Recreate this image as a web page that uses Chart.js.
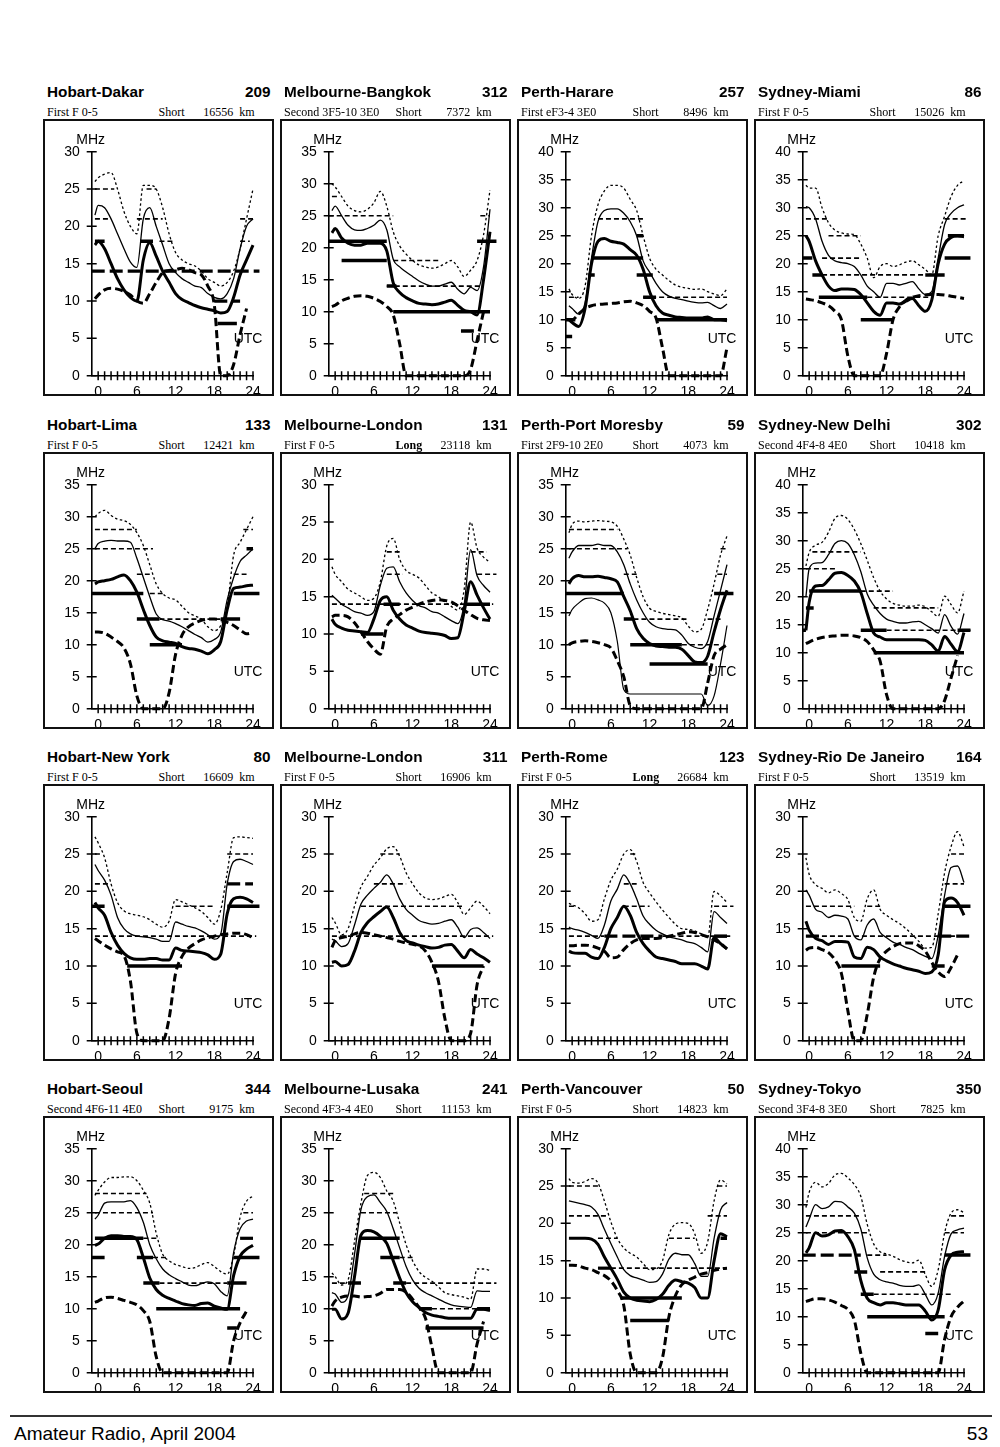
<!DOCTYPE html>
<html>
<head>
<meta charset="utf-8">
<script src="https://cdn.jsdelivr.net/npm/chart.js@4.4.0/dist/chart.umd.min.js"></script>
<style>
  body { margin: 0; background: #fff; }
  #page { position: relative; width: 1000px; height: 1447px; overflow: hidden; font-family: "Liberation Sans", Arial, sans-serif; color: #000; }
  .panel { position: absolute; width: 231px; height: 277px; }
  .panel canvas { position: absolute; left: 0; top: 0; }
  .frame { position: absolute; left: 0; top: 0; width: 231px; height: 277px; box-sizing: border-box; border: 2px solid #111; pointer-events: none; }
  .ttl { position: absolute; top: -35px; font-weight: bold; font-size: 15.3px; line-height: 15.3px; white-space: nowrap; }
  .sub { position: absolute; top: -13px; font-family: "Liberation Serif", "Times New Roman", serif; font-size: 12px; line-height: 12px; white-space: nowrap; }
  #rule { position: absolute; left: 10px; top: 1415px; width: 982px; height: 1.5px; background: #333; }
  .foot { position: absolute; top: 1424px; font-size: 19px; line-height: 19px; }
</style>
</head>
<body>
<div id="page">
  <div id="rule"></div>
  <div class="foot" style="left:14px">Amateur Radio, April 2004</div>
  <div class="foot" style="right:12px">53</div>
</div>
<script>
// hours sampled by every curve: -0.5 then 0..24 UTC
const hours = [-0.5, 0, 1, 2, 3, 4, 5, 6, 7, 8, 9, 10, 11, 12, 13, 14, 15, 16, 17, 18, 19, 20, 21, 22, 23, 24];
const hourTicks = [0, 1, 2, 3, 4, 5, 6, 7, 8, 9, 10, 11, 12, 13, 14, 15, 16, 17, 18, 19, 20, 21, 22, 23, 24];

const paths = ["Hobart-Dakar", "Melbourne-Bangkok", "Perth-Harare", "Sydney-Miami",
  "Hobart-Lima", "Melbourne-London", "Perth-Port Moresby", "Sydney-New Delhi",
  "Hobart-New York", "Melbourne-London", "Perth-Rome", "Sydney-Rio De Janeiro",
  "Hobart-Seoul", "Melbourne-Lusaka", "Perth-Vancouver", "Sydney-Tokyo"];
const bearings = [209, 312, 257, 86, 133, 131, 59, 302, 80, 311, 123, 164, 344, 241, 50, 350];
const modes = ["First F 0-5", "Second 3F5-10 3E0", "First eF3-4 3E0", "First F 0-5",
  "First F 0-5", "First F 0-5", "First 2F9-10 2E0", "Second 4F4-8 4E0",
  "First F 0-5", "First F 0-5", "First F 0-5", "First F 0-5",
  "Second 4F6-11 4E0", "Second 4F3-4 4E0", "First F 0-5", "Second 3F4-8 3E0"];
const routes = ["Short", "Short", "Short", "Short", "Short", "Long", "Short", "Short",
  "Short", "Short", "Long", "Short", "Short", "Short", "Short", "Short"];
const distances = [16556, 7372, 8496, 15026, 12421, 23118, 4073, 10418,
  16609, 16906, 26684, 13519, 9175, 11153, 14823, 7825];
const yMax = [30, 35, 40, 40, 35, 30, 35, 40, 30, 30, 30, 30, 35, 35, 30, 40];

// upper dotted curve (MHz)
const upper = [
  [26, 26.5, 27, 27.2, 25, 22, 20, 19, 25.5, 25.5, 25, 22.5, 19, 16.5, 15.5, 15, 14.7, 14, 13, 12.5, 12, 12.5, 14, 17, 21, 25],
  [30, 29.5, 28, 26.5, 25.8, 25.6, 26, 27, 28.8, 26.5, 22.5, 20.3, 19, 18, 17.3, 17, 16.8, 17, 17.5, 18, 17, 15.5, 16.5, 18, 22, 29],
  [15.5, 14.5, 13.8, 16, 25, 30.5, 33, 34, 34, 33.5, 31.5, 29.5, 25, 21, 19, 18, 17, 16.2, 15.8, 15.6, 15.4, 15.5, 15, 14.6, 14.3, 15.5],
  [34, 33.5, 33.5, 30, 27.3, 26, 25.5, 25.3, 25.2, 23.5, 21, 17.5, 19.5, 20, 19.5, 19.8, 20.3, 20.5, 19.8, 19, 18, 25, 28.5, 32, 34, 34.8],
  [30, 30.5, 31, 30.2, 29.6, 29.4, 28.8, 27.5, 25.5, 22.5, 19.5, 18, 17.3, 17, 16, 15, 14.5, 14, 12.8, 12.2, 13, 16, 24, 26, 28, 30],
  [19, 18, 17, 16, 15.5, 15, 14.5, 14.8, 17, 21.8, 22.8, 20, 18.5, 18, 17.5, 16.5, 15.5, 15, 14.3, 13.7, 13.2, 16, 25, 21.5, 20.3, 19.6],
  [27.5, 28.8, 29.3, 29.2, 29.3, 29.4, 29.3, 29.2, 28.5, 26.5, 24, 20.5, 17.5, 15.7, 15.2, 14.9, 14.7, 14.5, 14.2, 12.9, 12, 12.4, 15.5, 19.5, 24, 27],
  [25.5, 27.9, 29.2, 29.7, 31.5, 34, 34.5, 33.8, 32, 29.5, 26.5, 23.4, 21, 19.6, 18.8, 18.5, 18.3, 18.3, 18.5, 18.2, 17.3, 16.5, 20.1, 18.6, 17.1, 21],
  [27.3, 26.5, 24.5, 21, 18.5, 17.4, 17, 16.8, 16.6, 16.2, 15.6, 15.2, 16, 18.9, 18.6, 18.2, 17.8, 17.3, 16.5, 15.6, 17.5, 22.5, 27.2, 27.3, 27.2, 27.1],
  [16.5, 15.8, 14.2, 15, 18, 20.6, 22, 23.5, 24.5, 25.7, 26, 24.7, 22.5, 21, 19.8, 19.1, 18.9, 19, 19.3, 19.6, 18.5, 16.9, 17.8, 18.7, 18, 17],
  [18.4, 18.2, 17.8, 17, 16, 16.2, 19, 21.5, 23, 25, 25.6, 24, 21.2, 19.8, 18.6, 17.5, 16.5, 15.6, 15, 14.9, 14.7, 14.3, 13.8, 20, 19.4, 18.5],
  [24.5, 22.3, 20.9, 20.4, 19.8, 20.2, 19.7, 18.9, 16.5, 16, 19, 20.2, 17.6, 16.8, 16.2, 15.7, 15, 14.2, 13.3, 12.4, 12.5, 17, 22.5, 26, 28, 26],
  [27.7, 28.5, 29.8, 30.5, 30.5, 30.6, 30.6, 30, 28.5, 26.5, 21.8, 18.5, 17.5, 16.9, 16.6, 16.3, 16.4, 16.9, 17.2, 16.6, 15.8, 15.4, 18.3, 24.3, 26.8, 27.6],
  [15.6, 15, 13.7, 14.5, 20.5, 26.5, 30.8, 31.3, 30.5, 28.4, 26.8, 23.4, 20, 17.5, 15.8, 14.9, 14.3, 13.4, 12.5, 12.2, 12, 11.8, 11.5, 16.2, 16.2, 16],
  [26, 25.5, 25.4, 25.6, 26, 25.4, 23, 20.2, 18, 16.7, 16, 15.5, 14.6, 13.8, 13.9, 15, 18.5, 19.9, 20.1, 20, 18.6, 16, 17.5, 23, 25.8, 25.3],
  [29.5, 32.2, 34, 33.2, 33.8, 35.3, 35.6, 34.8, 33.6, 31.5, 26.5, 23, 21.6, 21.2, 20.8, 20.2, 19.8, 19.6, 20.1, 17.5, 15.4, 18.4, 25, 28.5, 29.1, 28.6]
];

// thin solid curve
const median = [
  [21.5, 22.8, 22.5, 21, 19, 17, 15.2, 14.5, 21, 22.5, 20, 17.5, 15, 13.8, 13, 12.5, 12, 11.8, 11, 10.5, 10.3, 11, 13, 17, 20, 21],
  [25.8, 26.5, 25, 23.5, 22.8, 22.7, 23, 23.5, 24.3, 22.8, 18.2, 17, 16.2, 15.5, 14.8, 14.3, 14, 14, 14.3, 14.6, 13.5, 12.8, 13.8, 13.3, 17, 26],
  [12.5, 12, 11, 13, 21, 27.5, 29.5, 29.8, 29.8, 29, 27.5, 25, 20.5, 18.5, 16.5, 15, 14.2, 13.8, 13.6, 13.3, 13.1, 13, 13.1, 12.5, 12, 12.8],
  [30.2, 30, 28, 24, 21.5, 20.5, 20.2, 20, 19.5, 18, 16, 15, 14, 16.5, 16.5, 16.2, 16.5, 16.8, 15.5, 14.5, 15, 21, 27, 29, 30, 30.5],
  [25, 25.8, 26.2, 26.3, 26.2, 26.2, 26, 23.5, 20.5, 17.5, 14.8, 13.9, 13.7, 13.3, 12.8, 12.2, 11.6, 11.1, 10.4, 10.8, 12, 17, 20.5, 23, 24, 25],
  [15.2, 14.8, 14, 13.5, 13, 12.8, 12.5, 13, 16.5, 18.8, 19, 17, 15.5, 14.5, 13.8, 13.5, 13, 12.8, 12.3, 11.8, 11.4, 14, 21.3, 17.8, 16.5, 15.6],
  [23.5, 24.5, 25.5, 25.5, 25.5, 25.7, 25.5, 25.5, 24.5, 22.5, 19.5, 17, 15, 13.5, 12.8, 12.5, 12.4, 12.3, 11.5, 10.2, 9.6, 9.4, 10.5, 14.5, 18.5, 22.5],
  [20, 25, 26, 26.1, 27.5, 29.5, 30, 29.5, 27.5, 24.5, 20.5, 18.5, 17, 16, 15.6, 15.3, 15.3, 15.5, 15.6, 15, 14.3, 13.5, 16.8, 14.7, 13.3, 17],
  [23.6, 22.8, 21.5, 19.5, 16.5, 15, 14.3, 14, 13.9, 13.8, 13.6, 13.3, 13.3, 15.9, 15.6, 15.3, 15.1, 14.7, 14.2, 13.6, 14.3, 21, 24, 24.3, 24, 23.6],
  [13.6, 13.4, 12.6, 13, 15.5, 18.3, 19.5, 20.4, 21.2, 22.2, 21, 19, 17.6, 16.8, 16.1, 15.8, 15.6, 15.7, 16, 16.2, 15.2, 13.8, 14.9, 15.1, 14.5, 13.7],
  [15.2, 15, 14.8, 14.5, 14.1, 13.7, 15.5, 18.7, 20.3, 22.2, 21, 19, 16.7, 15.6, 14.8, 14.3, 13.9, 13.7, 13.5, 13.2, 13, 12.5, 11.9, 17.3, 16.5, 15.7],
  [20.2, 19.5, 17.6, 17.2, 16.5, 16.8, 16.7, 16.3, 14, 13.5, 15.5, 16.3, 14.5, 13.8, 13.2, 12.9, 12.5, 12.2, 11.7, 11.3, 11, 14.1, 19.5, 23.2, 23.4, 21.2],
  [24, 24.6, 26.5, 26.7, 26.7, 26.7, 26.9, 25.8, 23.5, 20, 17.8, 16.2, 15.3, 14.7, 14.2, 13.7, 13.6, 13.9, 14.2, 13.9, 12.7, 12, 18.8, 22.5, 23.7, 24],
  [12.5, 12.3, 11, 12, 18.5, 25.5, 27.5, 27.8, 26.6, 25.2, 22.5, 19.5, 16.6, 14.5, 13.2, 12.5, 12, 11.5, 11, 10.6, 10.4, 10.3, 10.2, 12.8, 12.7, 12.7],
  [23, 22.9, 22.7, 22.5, 22.2, 21.2, 19.2, 17.3, 15.5, 13.8, 13, 12.7, 12.4, 12.1, 12.2, 13.2, 15.2, 16, 15.8, 15.8, 14.6, 12.9, 12.9, 18, 21.8, 22.8],
  [26, 27.4, 30, 29.3, 29.6, 30.6, 30.5, 29.6, 28.5, 25.7, 20.5, 17.6, 16.6, 16.2, 16, 15.6, 15.4, 15.4, 15.7, 14, 12.1, 14.2, 20.8, 24.8, 25.5, 25.8]
];

// thick solid curve
const optimum = [
  [17.5, 18, 17, 15, 13, 11.5, 10.5, 10, 15.5, 17.8, 16, 14, 12.5, 11, 10.2, 9.8, 9.4, 9.1, 8.9, 8.7, 8.4, 8.6, 10.5, 13.5, 15.5, 17.5],
  [22.3, 23, 21.5, 20.7, 20.4, 20.4, 20.7, 20.7, 20.7, 19.5, 14.5, 13, 12.2, 11.7, 11.3, 11.2, 11.1, 11.2, 11.5, 11.8, 11, 10.2, 10, 9.5, 15, 22.5],
  [10, 9.5, 8.8, 12, 20, 24, 24.5, 24, 23.8, 23.5, 22.5, 21.5, 19, 15, 12.5, 11.2, 10.8, 10.5, 10.4, 10.3, 10.3, 10.3, 10.5, 10, 10, 9.8],
  [25, 24, 20.5, 18, 16, 15.2, 15.5, 15.5, 15.4, 14.5, 13, 11.5, 10.8, 13, 13, 12.8, 13.3, 13.8, 12.5, 11.5, 13.5, 20, 23.5, 24.7, 25, 24.8],
  [19.5, 19.8, 20, 20.2, 20.6, 20.9, 20, 18.2, 15.5, 13, 11.2, 10.6, 10.4, 10.2, 9.7, 9.4, 9.3, 9, 8.6, 9.2, 10.5, 15.5, 18.8, 19, 19.2, 19.3],
  [12, 11.3, 10.8, 10.5, 10.4, 10.3, 10.2, 12, 14.5, 15, 13.2, 12, 11.2, 10.8, 10.4, 10.2, 10.1, 10, 9.8, 9.4, 9.5, 13, 17, 15.2, 13.5, 12],
  [19.5, 20.3, 20.8, 20.6, 20.6, 20.7, 20.5, 20.3, 19.8, 17.5, 15.3, 12.5, 11, 10.2, 9.8, 9.7, 9.6, 9.6, 9.3, 8.3, 7.3, 7.2, 8.2, 12, 15.5, 18.5],
  [14, 19, 21.9, 22, 23, 24.2, 24.3, 23.8, 22.8, 20.8, 17, 13.5, 12.8, 12.3, 12.3, 12.3, 12.3, 12.3, 12.3, 12.2, 11.4, 10.3, 12.9, 11.5, 10.2, 13.6],
  [18.5, 17.8, 16.8, 14.5, 12.8, 11.7, 11.1, 10.9, 10.9, 11, 11, 10.8, 10.8, 12.4, 12.1, 12, 11.9, 11.8, 11.5, 10.9, 11.6, 17, 19, 19.2, 19, 18.5],
  [10.5, 10.6, 10, 10.2, 12, 14.5, 15.8, 16.6, 17.3, 17.9, 16.5, 14.5, 13.4, 13.1, 12.8, 12.6, 12.4, 12.5, 12.8, 12.9, 12, 11.1, 12.2, 11.6, 11.1, 10.5],
  [12, 11.8, 11.7, 11.7, 11.2, 11, 12.5, 15, 16.5, 18, 16.8, 14.5, 13, 12, 11.2, 11, 10.8, 10.6, 10.3, 10.3, 10.3, 10, 9.6, 13.8, 13, 12.3],
  [16, 14.8, 13.7, 13.4, 12.9, 13.3, 13.3, 13.2, 11.2, 11, 12.5, 12.2, 11.2, 10.7, 10.3, 10, 9.7, 9.5, 9.3, 9, 9.2, 11.5, 18.6, 19.1, 18.5, 16.8],
  [19.9, 20.1, 21, 21.4, 21.4, 21.3, 21.3, 20.8, 18, 14.8, 13, 12.1, 11.6, 11.2, 10.8, 10.6, 10.5, 10.8, 10.9, 10.4, 10.1, 9.9, 15.2, 18.2, 19.3, 19.9],
  [9.9, 9.9, 8.4, 9.3, 15, 21.5, 22.2, 22, 21.3, 20.2, 17.5, 14.8, 12.5, 11.1, 10.2, 9.4, 9, 8.8, 8.6, 8.5, 8.5, 8.5, 8.5, 9.9, 9.9, 9.7],
  [18, 18, 18, 18, 17.9, 17.2, 15.5, 14, 12.5, 10.8, 10, 9.7, 9.6, 9.5, 9.8, 10.5, 11.7, 12.4, 12.2, 12, 11.4, 10, 10, 15, 18.6, 18.2],
  [21.4, 22.3, 25, 24.4, 24.6, 25.3, 25.4, 24.3, 22, 16.5, 13.3, 12.5, 12.1, 12.5, 12.5, 12.3, 12.1, 12.1, 12.1, 11, 9.4, 11.2, 18.4, 21, 21.5, 21.6]
];

// lower thick dashed curve
const lowest = [
  [10.3, 10.8, 11.5, 11.7, 11.6, 11.3, 10.8, 10, 9.7, 11, 12.5, 13.8, 14.1, 14.2, 14.4, 14.2, 13.8, 13.5, 12, 9.5, 0, 0, 1.5, 5.5, 9, null],
  [10.8, 11, 11.7, 12.1, 12.4, 12.5, 12.4, 12.1, 11.6, 10.8, 9.5, 5, 0, 0, 0, 0, 0, 0, 0, 0, 0, 0, 1, 5.5, 10, null],
  [10, 10, 11, 12, 12.5, 12.7, 12.8, 12.9, 13, 13.2, 13.3, 13, 12.5, 11.5, 10.3, 5, 0, 0, 0, 0, 0, 0, 0, 0, 0, 5],
  [13.7, 13.6, 13.4, 13, 12.5, 11.5, 10, 3.5, 0, 0, 0, 0, 0, 4, 10, 12.3, 13.5, 14, 14.3, 14.4, 14.5, 14.5, 14.4, 14.2, 14, 13.8],
  [12, 12, 11.8, 11.2, 10.5, 9.5, 7, 2, 0, 0, 0, 0, 2.5, 8.5, 11.5, 12.8, 13.4, 13.8, 14, 14, 13.9, 13.5, 13, 12.3, 11.7, 11.9],
  [12.3, 12.5, 12.5, 12.3, 11.5, 10.3, 9, 8, 7.3, 11, 12, 12.6, 13.2, 13.6, 14, 14.3, 14.5, 14.6, 14.5, 14.3, 13.8, 13.2, 12.6, 12.1, 11.9, 11.8],
  [10, 10.3, 10.5, 10.6, 10.5, 10.3, 10, 9.5, 7.5, 5, 0.5, 0, 0, 0, 0, 0, 0, 0, 0, 0, 0, 0, 4, 8.3, 9.3, 10],
  [11.6, 11.9, 12.4, 12.7, 12.9, 13, 13.1, 13.1, 13, 12.7, 12, 10.5, 8.5, 2.5, 0, 0, 0, 0, 0, 0, 0, 0, 1.5, 5.5, 9.5, null],
  [13.7, 13.4, 12.8, 12.3, 11.9, 11.4, 8, 1, 0, 0, 0, 0, 3, 9, 11.3, 12.4, 13, 13.5, 13.8, 14, 14.2, 14.3, 14.4, 14.4, 14.2, 13.8],
  [12.5, 13.4, 13.8, 14, 14.3, 14.5, 14.4, 14.2, 14, 13.8, 13.6, 13.3, 13.1, 12.9, 12.7, 12, 10.5, 8, 3, 0, 0, 0, 1, 7.5, 10, null],
  [12.7, 12.7, 12.8, 12.8, 12.7, 12.4, 12, 11.1, 11.2, 12.2, 13, 13.5, 13.7, 13.7, 13.7, 13.8, 14, 14.2, 14.4, 14.6, 14.5, 14.2, 13.9, 13.5, 13, 12.3],
  [12.1, 12.4, 12.5, 12.2, 11.8, 10.8, 9, 4, 0, 0, 3.5, 8.5, 11, 12, 12.6, 13, 13.1, 13.1, 12.7, 12, 10.5, 9.2, 8.6, 9.8, 11.5, null],
  [11, 11.2, 11.7, 11.8, 11.6, 11.3, 11, 10.6, 9.7, 8, 2.5, 0, 0, 0, 0, 0, 0, 0, 0, 0, 0, 0, 5, 7.8, 9.6, null],
  [10.4, 11.2, 11.8, 12, 12, 11.8, 11.9, 12, 12.4, 13, 13, 13, 12.6, 11.5, 10.2, 8.5, 4, 0, 0, 0, 0, 0, 0, 4.5, 8, null],
  [14.4, 14.4, 14.3, 14, 13.8, 13.4, 13, 12.3, 11, 9, 2.5, 0, 0, 0, 0, 2, 7.5, 10.3, 11.8, 12.4, 12.8, 13.2, 13.4, 13.7, 13.9, 14],
  [12.7, 12.9, 13.2, 13.2, 13, 12.6, 12, 11.3, 9.4, 3.5, 0, 0, 0, 0, 0, 0, 0, 0, 0, 0, 0, 0, 6, 10, 11.7, 12.8]
];

// extra thin lower curve, only drawn on Perth-Port Moresby (index 6)
const extraLow = {
  6: [14.5, 15.5, 16.5, 17.2, 17.3, 17, 16.5, 15, 10.5, 3, 2.3, 2.3, 2.3, 2.3, 2.3, 2.3, 2.3, 2.3, 2.3, 2.3, 2.3, 2.3, 0.5, 2, 7, 13]
};

// band steps as [from hour, to hour, MHz]
const thinBands = [
  [[-0.5, 2.5, 25], [-0.5, 2, 21], [6, 10, 21], [7.5, 9, 25], [9.5, 11.5, 18], [22, 24, 21], [22, 23.5, 18]],
  [[-0.5, 0.5, 28], [-1, 9, 25], [-0.5, 8, 21], [9, 16, 18], [8, 23, 14], [22.5, 24, 25]],
  [[-0.5, 1, 14], [4, 11, 28], [11, 24, 14]],
  [[-0.5, 3, 28], [3, 8, 25], [2, 8, 21], [2, 19, 18], [9, 19, 14], [21, 24.5, 28]],
  [[-0.5, 6, 28], [-0.5, 8.5, 25], [6, 8, 21], [8, 10, 18], [9.5, 19, 14], [22.5, 24, 28], [21, 23, 21]],
  [[-0.5, 24.5, 14], [8, 10, 21], [8, 10.5, 18], [21, 23.5, 21], [22, 25, 18]],
  [[-0.5, 7, 28], [-0.5, 8.5, 25], [8, 10, 21], [9.5, 18, 14], [17, 23, 10], [21, 23, 14], [22.5, 24, 21], [23, 24, 25]],
  [[0.5, 8, 28], [-0.5, 4, 25], [8, 13, 21], [10, 20, 18], [12, 25, 14]],
  [[-0.5, 0.5, 25], [-0.5, 2, 21], [-0.5, 24.5, 14], [12, 18, 18], [20, 24, 25]],
  [[-0.5, 24.5, 14], [4, 20, 18], [6, 11, 21], [7, 10, 25]],
  [[-0.5, 5, 14], [14, 24.5, 14], [8, 12, 18], [8, 10, 21], [9, 10, 25], [22, 25, 18], [-0.5, 0.5, 18]],
  [[-0.5, 24.5, 14], [-0.5, 7, 18], [9, 11, 18], [21, 24, 21], [22, 24, 25]],
  [[-0.5, 7.5, 28], [-0.5, 8.5, 25], [7, 9.5, 21], [8.5, 10.5, 18], [9.5, 20, 14], [22.5, 24, 25]],
  [[-0.5, 1.5, 14], [4.5, 9, 28], [4, 9.5, 25], [10, 12, 18], [11, 25, 14], [15, 24, 10]],
  [[-0.5, 4, 25], [-0.5, 5.5, 21], [4, 7, 18], [6, 24, 14], [15, 19, 18], [21, 24, 21], [22.5, 24, 25], [12, 14, 10]],
  [[-0.5, 8, 28], [-0.5, 9, 25], [9, 12, 21], [11, 18, 18], [10, 22, 14], [21, 24, 25], [22, 24, 28]]
];
const thickBands = [
  [[-0.5, 1, 18], [6.5, 8.5, 18], [18.5, 21.5, 7]],
  [[-1, 8, 21], [1, 8, 18], [8, 9.5, 14], [9, 24, 10], [19.5, 21.5, 7], [22, 25, 21]],
  [[-1, 0.5, 10], [-1, 0, 7], [2.5, 3.5, 18], [3, 11, 21], [10, 11, 25], [10, 12.5, 18], [11, 13, 14], [13, 24, 10]],
  [[-1, 0.5, 21], [0.5, 2, 18], [1.5, 9, 14], [8, 13, 10], [18, 21, 18], [21, 25, 21], [21.5, 24, 25]],
  [[-1, 7, 18], [6, 9.5, 14], [19, 22, 14], [8, 13, 10], [21, 25, 18], [23, 24, 25]],
  [[7.5, 10, 14], [20, 24, 14], [4, 7.5, 10]],
  [[-1, 8, 18], [8, 9.5, 14], [9, 17, 10], [12, 21, 7], [22, 25, 18]],
  [[0, 8, 21], [-0.5, 0.7, 18], [-1, -0.5, 14], [8, 12, 14], [10, 24, 10], [23, 25, 14]],
  [[-1, 1, 18], [4.5, 13, 10], [20, 25, 18]],
  [[15, 23, 10]],
  [[22, 24, 14]],
  [[5, 11, 10], [19, 21, 10], [21, 25, 18]],
  [[-0.5, 7, 21], [-1, 1, 18], [6, 8.5, 18], [7, 9.5, 14], [20, 23, 14], [9, 22, 10], [20, 21.5, 7], [21, 25, 18]],
  [[2, 4, 14], [4, 8, 21], [8, 10, 21], [7, 10, 18], [9, 11, 14], [13, 15, 10], [14, 23, 7], [22, 24, 10]],
  [[7.5, 17, 10], [9, 15, 7], [23, 24, 18]],
  [[7, 9, 18], [8, 10, 14], [9, 21, 10], [18, 20, 7], [21, 25, 21]]
];
const dashBands = [
  [[-1, 25, 14], [18, 22, 10]], [], [], [],
  [], [], [], [],
  [[20, 24, 21]], [], [[5, 14, 14]], [[-0.5, 2, 14], [20, 25, 14]],
  [[22, 24, 21]], [], [[4, 6, 14]], [[-1, 8, 21]]
];

const colLeft = [43, 280, 517, 754];
const rowTop = [119, 452, 784, 1116];

Chart.defaults.font.family = '"Liberation Sans", Arial, sans-serif';
Chart.defaults.color = '#000';

// tick marks crossing the axes, plus the MHz and UTC captions
const axisMarks = {
  id: 'axisMarks',
  afterDraw(chart) {
    const { ctx, chartArea: a, scales: { x, y } } = chart;
    ctx.save();
    ctx.strokeStyle = '#000';
    ctx.lineWidth = 1.5;
    ctx.beginPath();
    for (let v = 0; v <= y.max; v += 5) {
      const py = y.getPixelForValue(v);
      ctx.moveTo(a.left - 5, py);
      ctx.lineTo(a.left + 5, py);
    }
    hourTicks.forEach(h => {
      const px = x.getPixelForValue(h);
      ctx.moveTo(px, a.bottom - 4.5);
      ctx.lineTo(px, a.bottom + 4.5);
    });
    ctx.stroke();
    ctx.fillStyle = '#000';
    ctx.font = '14px "Liberation Sans", Arial, sans-serif';
    ctx.textAlign = 'center';
    ctx.fillText('MHz', a.left - 1, a.top - 7.5);
    ctx.textAlign = 'left';
    ctx.fillText('UTC', x.getPixelForValue(21), a.bottom - 32.5);
    ctx.restore();
  }
};

function curve(values) {
  return hours.map((h, i) => ({ x: h, y: values[i] }));
}

function steps(list) {
  const pts = [];
  list.forEach(([a, b, v]) => {
    pts.push({ x: a, y: v }, { x: b, y: v }, { x: b, y: null });
  });
  return pts;
}

const page = document.getElementById('page');

paths.forEach((name, i) => {
  const panel = document.createElement('div');
  panel.className = 'panel';
  panel.style.left = colLeft[i % 4] + 'px';
  panel.style.top = rowTop[Math.floor(i / 4)] + 'px';
  const route = routes[i] === 'Long' ? '<b>Long</b>' : routes[i];
  panel.innerHTML =
    '<div class="ttl" style="left:4px">' + name + '</div>' +
    '<div class="ttl" style="right:3.5px">' + bearings[i] + '</div>' +
    '<div class="sub" style="left:4px">' + modes[i] + '</div>' +
    '<div class="sub" style="left:115.5px">' + route + '</div>' +
    '<div class="sub" style="right:19.5px">' + distances[i] + '\u2002km</div>' +
    '<canvas width="231" height="277"></canvas><div class="frame"></div>';
  page.appendChild(panel);

  const datasets = [
    { data: curve(upper[i]), borderWidth: 1.3, borderDash: [2.5, 2.5] },
    { data: curve(median[i]), borderWidth: 1.3 },
    { data: curve(optimum[i]), borderWidth: 3 },
    { data: curve(lowest[i]), borderWidth: 3, borderDash: [8, 4] },
    { data: steps(thinBands[i]), borderWidth: 1.6, borderDash: [5, 3], tension: 0, cubicInterpolationMode: 'default' },
    { data: steps(thickBands[i]), borderWidth: 3.5, tension: 0, cubicInterpolationMode: 'default' },
    { data: steps(dashBands[i]), borderWidth: 3.2, borderDash: [13, 5], tension: 0, cubicInterpolationMode: 'default' }
  ];
  if (extraLow[i]) datasets.push({ data: curve(extraLow[i]), borderWidth: 1.2 });
  datasets.forEach(d => {
    d.borderColor = '#000';
    d.pointRadius = 0;
    d.fill = false;
    d.clip = false;
    d.spanGaps = false;
    if (d.cubicInterpolationMode === undefined) d.cubicInterpolationMode = 'monotone';
  });

  new Chart(panel.querySelector('canvas').getContext('2d'), {
    type: 'line',
    data: { datasets: datasets },
    options: {
      responsive: false,
      animation: false,
      layout: { padding: { top: 32.7, right: 21, bottom: 0, left: 0 } },
      plugins: { legend: { display: false }, tooltip: { enabled: false } },
      scales: {
        x: {
          type: 'linear',
          min: -1,
          max: 24,
          afterBuildTicks: s => { s.ticks = hourTicks.map(v => ({ value: v })); },
          afterFit: s => { s.height = 20.3; },
          grid: { display: false },
          border: { color: '#000', width: 1.6 },
          ticks: {
            autoSkip: false,
            maxRotation: 0,
            padding: 0,
            font: { size: 14 },
            callback: v => (v % 6 === 0 ? String(v) : '')
          }
        },
        y: {
          min: 0,
          max: yMax[i],
          afterFit: s => { s.width = 48.7; },
          grid: { display: false },
          border: { color: '#000', width: 1.6 },
          ticks: { stepSize: 5, padding: 4, font: { size: 14 } }
        }
      }
    },
    plugins: [axisMarks]
  });
});
</script>
</body>
</html>
